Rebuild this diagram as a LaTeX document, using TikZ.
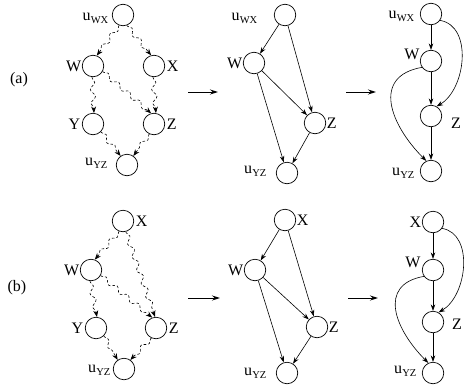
\documentclass[tikz,border=0pt]{standalone}
\usepackage{fontspec}
\setmainfont{Liberation Serif}
\usetikzlibrary{arrows.meta,decorations.pathmorphing}
\newcommand\usub[1]{u\kern0.3pt\raisebox{-3pt}{\fontsize{10.5}{10.5}\selectfont #1}}
\begin{document}
\begin{tikzpicture}[x=1pt,y=-1pt,
  vtx/.style={circle,draw,minimum size=21.5pt,inner sep=0pt,line width=0.7pt},
  lbl/.style={font=\fontsize{16}{16}\selectfont,inner sep=0.5pt},
  edge/.style={line width=0.6pt,-{Stealth[length=6.5pt,width=4.5pt]}},
  wavy/.style={line width=0.6pt,dash pattern=on 2.6pt off 2pt,decorate,
    decoration={snake,amplitude=2.4pt,segment length=14pt,pre length=1pt,post length=4pt},
    -{Stealth[length=6.5pt,width=5pt]}},
  big/.style={line width=0.9pt,-{Stealth[length=8pt,width=5pt]}}]
\useasboundingbox (0,0) rectangle (468,389);

% ---------- (a) ----------
\node[lbl] (la) at (19,80) {(a)};
% left
\node[vtx] (a1wx) at (123,15) {};
\node[vtx] (a1w) at (93,66) {};
\node[vtx] (a1x) at (154,66) {};
\node[vtx] (a1y) at (93,124) {};
\node[vtx] (a1z) at (154,124) {};
\node[vtx] (a1yz) at (127,165) {};
\node[lbl,anchor=base east] (la1wx) at (109,20) {\usub{WX}};
\node[lbl,anchor=east] (la1w) at (a1w.west) {W};
\node[lbl,anchor=west] (la1x) at ([xshift=1pt]a1x.east) {X};
\node[lbl,anchor=east] (la1y) at ([xshift=-1pt]a1y.west) {Y};
\node[lbl,anchor=west] (la1z) at ([xshift=1pt]a1z.east) {Z};
\node[lbl,anchor=base east] (la1yz) at (108,165) {\usub{YZ}};
\draw[wavy] (a1wx.250) -- (a1w.70);
\draw[wavy] (a1wx.290) -- (a1x.105);
\draw[wavy] (a1w.265) -- (a1y.85);
\draw[wavy] (a1w.330) -- (a1z.105);
\draw[wavy] (a1x.265) -- (a1z.80);
\draw[wavy] (a1y.315) -- (a1yz.125);
\draw[wavy] (a1z.245) -- (a1yz.55);

\coordinate (ar1s) at (188,92);
\coordinate (ar1e) at (218,92);
\draw[big] (ar1s) -- (ar1e);

% middle
\node[vtx] (a2wx) at (285,15) {};
\node[vtx] (a2w) at (254,63) {};
\node[vtx] (a2z) at (315,123) {};
\node[vtx] (a2yz) at (287,173) {};
\node[lbl,anchor=base east] (la2wx) at (258,20) {\usub{WX}};
\node[lbl,anchor=east] (la2w) at (a2w.west) {W};
\node[lbl,anchor=west] (la2z) at (a2z.east) {Z};
\node[lbl,anchor=base east] (la2yz) at (267,173) {\usub{YZ}};
\draw[edge] (a2wx) -- (a2w);
\draw[edge] (a2wx) -- (a2z);
\draw[edge] (a2w) -- (a2z);
\draw[edge] (a2w) -- (a2yz);
\draw[edge] (a2z) -- (a2yz);

\coordinate (ar2s) at (346,92);
\coordinate (ar2e) at (376,92);
\draw[big] (ar2s) -- (ar2e);

% right
\node[vtx] (a3wx) at (431,14) {};
\node[vtx] (a3w) at (431,61) {};
\node[vtx] (a3z) at (431,116) {};
\node[vtx] (a3yz) at (431,171) {};
\node[lbl,anchor=base east] (la3wx) at (415,18) {\usub{WX}};
\node[lbl] (la3w) at (412,54) {W};
\node[lbl] (la3z) at (456,123) {Z};
\node[lbl,anchor=base east] (la3yz) at (415,175) {\usub{YZ}};
\draw[edge] (a3wx) -- (a3w);
\draw[edge] (a3w) -- (a3z);
\draw[edge] (a3z) -- (a3yz);
\draw[edge] (a3wx.-35) to[out=-10,in=30,looseness=1] (a3z.60);
\draw[edge] (a3w.215) to[out=190,in=135,looseness=1.4] (a3yz.115);

% ---------- (b) ----------
\node[lbl] (lb) at (17,288) {(b)};
% left
\node[vtx] (b1x) at (123,221) {};
\node[vtx] (b1w) at (91,270) {};
\node[vtx] (b1y) at (96,328) {};
\node[vtx] (b1z) at (156,328) {};
\node[vtx] (b1yz) at (124,369) {};
\node[lbl,anchor=west] (lb1x) at ([xshift=1pt]b1x.east) {X};
\node[lbl,anchor=east] (lb1w) at (b1w.west) {W};
\node[lbl,anchor=east] (lb1y) at ([xshift=-1pt]b1y.west) {Y};
\node[lbl,anchor=west] (lb1z) at ([xshift=1pt]b1z.east) {Z};
\node[lbl,anchor=base east] (lb1yz) at (111,372) {\usub{YZ}};
\draw[wavy] (b1x.250) -- (b1w.70);
\draw[wavy] (b1x.285) -- (b1z.95);
\draw[wavy] (b1w.265) -- (b1y.85);
\draw[wavy] (b1w.330) -- (b1z.110);
\draw[wavy] (b1y.315) -- (b1yz.125);
\draw[wavy] (b1z.245) -- (b1yz.55);

\coordinate (br1s) at (188,298);
\coordinate (br1e) at (220,298);
\draw[big] (br1s) -- (br1e);

% middle
\node[vtx] (b2x) at (285,220) {};
\node[vtx] (b2w) at (255,270) {};
\node[vtx] (b2z) at (317,327) {};
\node[vtx] (b2yz) at (287,373) {};
\node[lbl,anchor=west] (lb2x) at (b2x.east) {X};
\node[lbl,anchor=east] (lb2w) at (b2w.west) {W};
\node[lbl,anchor=west] (lb2z) at (b2z.east) {Z};
\node[lbl,anchor=base east] (lb2yz) at (267,375) {\usub{YZ}};
\draw[edge] (b2x) -- (b2w);
\draw[edge] (b2x) -- (b2z);
\draw[edge] (b2w) -- (b2z);
\draw[edge] (b2w) -- (b2yz);
\draw[edge] (b2z) -- (b2yz);

\coordinate (br2s) at (348,298);
\coordinate (br2e) at (378,298);
\draw[big] (br2s) -- (br2e);

% right
\node[vtx] (b3x) at (433,222) {};
\node[vtx] (b3w) at (433,270) {};
\node[vtx] (b3z) at (433,322) {};
\node[vtx] (b3yz) at (433,373) {};
\node[lbl,anchor=east] (lb3x) at (b3x.west) {X};
\node[lbl] (lb3w) at (413,262) {W};
\node[lbl] (lb3z) at (457,324) {Z};
\node[lbl,anchor=base east] (lb3yz) at (417,373) {\usub{YZ}};
\draw[edge] (b3x) -- (b3w);
\draw[edge] (b3w) -- (b3z);
\draw[edge] (b3z) -- (b3yz);
\draw[edge] (b3x.-35) to[out=-10,in=30,looseness=1] (b3z.60);
\draw[edge] (b3w.215) to[out=190,in=135,looseness=1.4] (b3yz.115);
\end{tikzpicture}
\end{document}
